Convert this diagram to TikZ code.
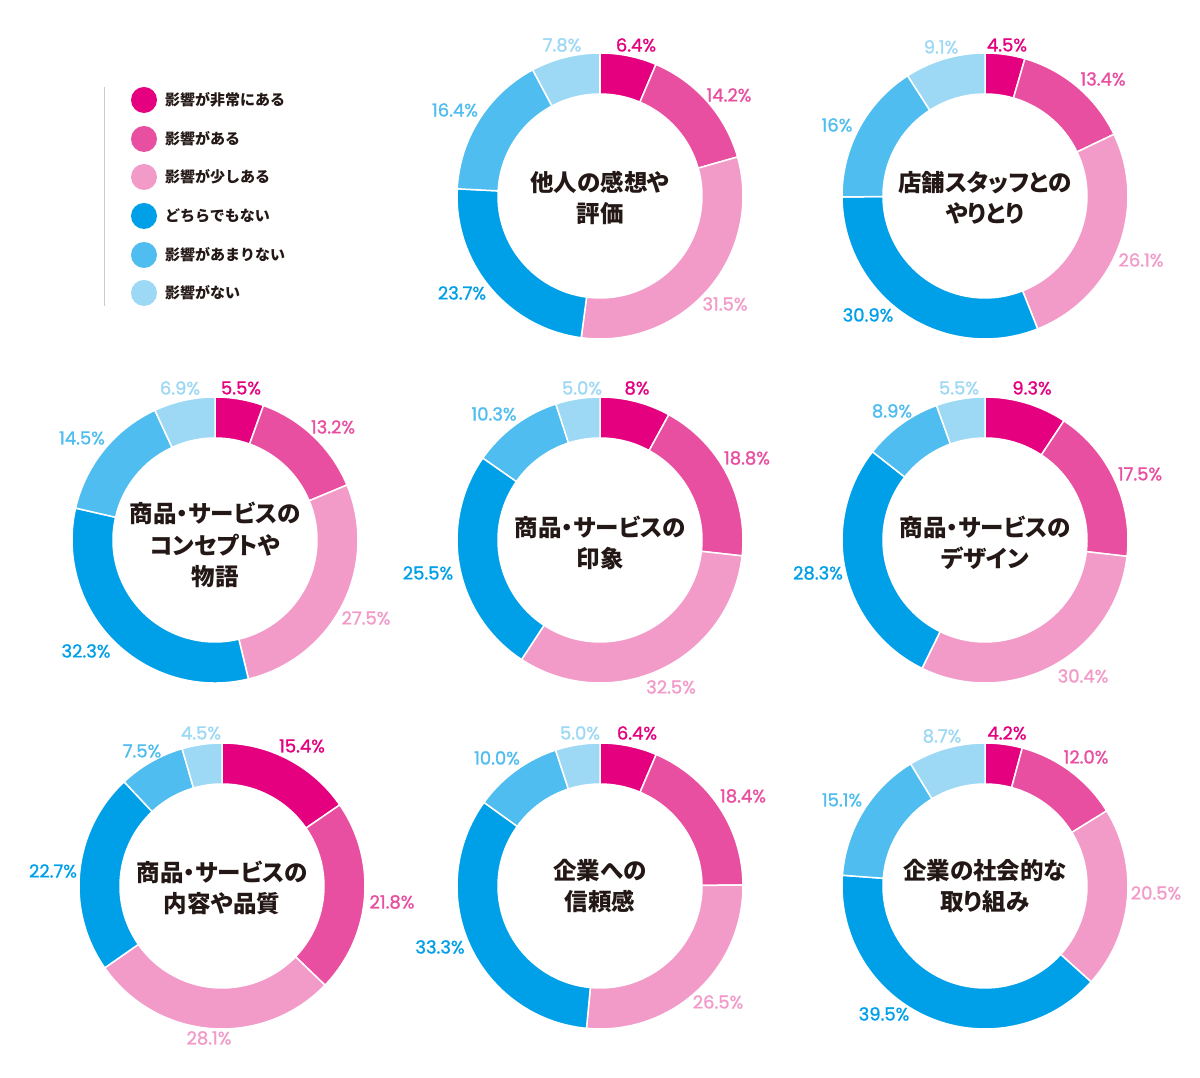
\documentclass[tikz,border=0pt]{standalone}
\usepackage{fontspec}
\newfontfamily\jpfont{Noto Sans CJK JP}
\newfontfamily\jpprop{Noto Sans CJK JP}[RawFeature=+palt]
\newfontfamily\numfont{Poppins}[FakeBold=1.2]
\usetikzlibrary{calc}
\definecolor{cA}{HTML}{E4007F}
\definecolor{cB}{HTML}{E94FA0}
\definecolor{cC}{HTML}{F29BC9}
\definecolor{cD}{HTML}{00A0E9}
\definecolor{cE}{HTML}{4FBDEF}
\definecolor{cF}{HTML}{9DD8F5}
\definecolor{ink}{HTML}{231815}
\newcommand\ringchart[3]{%
  \xdef\ringacc{0}%
  \foreach \val/\col in {#3}{%
    \pgfmathsetmacro\sang{90-(\ringacc/#2)*360}%
    \pgfmathsetmacro\eang{90-((\ringacc+\val)/#2)*360}%
    \fill[\col, draw=white, line width=1.5] ($(#1)+(\sang:143)$) arc[start angle=\sang, end angle=\eang, radius=143] -- ($(#1)+(\eang:102)$) arc[start angle=\eang, end angle=\sang, radius=102] -- cycle;
    \pgfmathsetmacro\nacc{\ringacc+\val}%
    \global\let\ringacc\nacc
  }}
\tikzset{
  pct/.style={font=\numfont\fontsize{18}{18}\selectfont, inner sep=0pt},
  title/.style={font=\jpprop\bfseries\fontsize{23.5}{31.5}\selectfont, text=ink, align=center, inner sep=0pt},
  dot/.style={circle, minimum size=26, inner sep=0pt},
  legtext/.style={font=\jpfont\bfseries\fontsize{15}{16}\selectfont, text=ink, anchor=west, inner sep=0pt},
  legline/.style={draw=black!20, line width=1}
}
\begin{document}
\begin{tikzpicture}[x=1pt,y=1pt]
\useasboundingbox[fill=white] (0,0) rectangle (1200,1078);
% legend
\coordinate (lgtop) at (104,{1078-87});
\coordinate (lgbot) at (104,{1078-306});
\draw[legline] (lgtop) -- (lgbot);
\node[dot, fill=cA] (d1) at (144,{1078-100}) {};
\node[dot, fill=cB] (d2) at (144,{1078-139}) {};
\node[dot, fill=cC] (d3) at (144,{1078-177}) {};
\node[dot, fill=cD] (d4) at (144,{1078-216}) {};
\node[dot, fill=cE] (d5) at (144,{1078-255}) {};
\node[dot, fill=cF] (d6) at (144,{1078-293}) {};
\node[legtext] (t1) at (165,{1078-100}) {影響が非常にある};
\node[legtext] (t2) at (165,{1078-139}) {影響がある};
\node[legtext] (t3) at (165,{1078-177}) {影響が少しある};
\node[legtext] (t4) at (165,{1078-216}) {どちらでもない};
\node[legtext] (t5) at (165,{1078-255}) {影響があまりない};
\node[legtext] (t6) at (165,{1078-293}) {影響がない};
% centers
\coordinate (k1) at (600,{1078-196});
\coordinate (k2) at (985,{1078-196});
\coordinate (k4) at (215,{1078-540});
\coordinate (k5) at (600,{1078-540});
\coordinate (k6) at (985,{1078-540});
\coordinate (k7) at (222,{1078-886});
\coordinate (k8) at (600,{1078-886});
\coordinate (k9) at (985,{1078-886});
\ringchart{k1}{100}{6.4/cA,14.2/cB,31.5/cC,23.7/cD,16.4/cE,7.8/cF}
\ringchart{k2}{100}{4.5/cA,13.4/cB,26.1/cC,30.9/cD,16/cE,9.1/cF}
\ringchart{k4}{99.9}{5.5/cA,13.2/cB,27.5/cC,32.3/cD,14.5/cE,6.9/cF}
\ringchart{k5}{100.1}{8/cA,18.8/cB,32.5/cC,25.5/cD,10.3/cE,5.0/cF}
\ringchart{k6}{99.9}{9.3/cA,17.5/cB,30.4/cC,28.3/cD,8.9/cE,5.5/cF}
\ringchart{k7}{100}{15.4/cA,21.8/cB,28.1/cC,22.7/cD,7.5/cE,4.5/cF}
\ringchart{k8}{99.6}{6.4/cA,18.4/cB,26.5/cC,33.3/cD,10.0/cE,5.0/cF}
\ringchart{k9}{100}{4.2/cA,12.0/cB,20.5/cC,39.5/cD,15.1/cE,8.7/cF}
% titles
\node[title] (h1) at ($(k1)+(0,-2)$) {他人の感想や\\評価};
\node[title] (h2) at ($(k2)+(0,-2)$) {店舗スタッフとの\\やりとり};
\node[title] (h4) at ($(k4)+(0,-5)$) {商品・サービスの\\コンセプトや\\物語};
\node[title] (h5) at ($(k5)+(0,-3)$) {商品・サービスの\\印象};
\node[title] (h6) at ($(k6)+(0,-3)$) {商品・サービスの\\デザイン};
\node[title] (h7) at ($(k7)+(0,-2)$) {商品・サービスの\\内容や品質};
\node[title] (h8) at ($(k8)+(0,0)$) {企業への\\信頼感};
\node[title] (h9) at ($(k9)+(0,0)$) {企業の社会的な\\取り組み};
% labels chart 1
\node[pct, text=cA] (l1a) at (636,{1078-45}) {6.4\%};
\node[pct, text=cB] (l1b) at (729,{1078-95}) {14.2\%};
\node[pct, text=cC] (l1c) at (725,{1078-304}) {31.5\%};
\node[pct, text=cD] (l1d) at (462,{1078-293}) {23.7\%};
\node[pct, text=cE] (l1e) at (455,{1078-110}) {16.4\%};
\node[pct, text=cF] (l1f) at (562,{1078-45}) {7.8\%};
% chart 2
\node[pct, text=cA] (l2a) at (1007,{1078-45}) {4.5\%};
\node[pct, text=cB] (l2b) at (1103,{1078-79}) {13.4\%};
\node[pct, text=cC] (l2c) at (1141,{1078-260}) {26.1\%};
\node[pct, text=cD] (l2d) at (868,{1078-315}) {30.9\%};
\node[pct, text=cE] (l2e) at (837,{1078-125}) {16\%};
\node[pct, text=cF] (l2f) at (941,{1078-47}) {9.1\%};
% chart 4
\node[pct, text=cA] (l4a) at (241,{1078-388}) {5.5\%};
\node[pct, text=cB] (l4b) at (333,{1078-427}) {13.2\%};
\node[pct, text=cC] (l4c) at (366,{1078-618}) {27.5\%};
\node[pct, text=cD] (l4d) at (86,{1078-651}) {32.3\%};
\node[pct, text=cE] (l4e) at (82,{1078-438}) {14.5\%};
\node[pct, text=cF] (l4f) at (180,{1078-388}) {6.9\%};
% chart 5
\node[pct, text=cA] (l5a) at (637,{1078-388}) {8\%};
\node[pct, text=cB] (l5b) at (747,{1078-458}) {18.8\%};
\node[pct, text=cC] (l5c) at (671,{1078-687}) {32.5\%};
\node[pct, text=cD] (l5d) at (428,{1078-573}) {25.5\%};
\node[pct, text=cE] (l5e) at (494,{1078-414}) {10.3\%};
\node[pct, text=cF] (l5f) at (582,{1078-388}) {5.0\%};
% chart 6
\node[pct, text=cA] (l6a) at (1032,{1078-388}) {9.3\%};
\node[pct, text=cB] (l6b) at (1140,{1078-474}) {17.5\%};
\node[pct, text=cC] (l6c) at (1083,{1078-676}) {30.4\%};
\node[pct, text=cD] (l6d) at (818,{1078-573}) {28.3\%};
\node[pct, text=cE] (l6e) at (892,{1078-411}) {8.9\%};
\node[pct, text=cF] (l6f) at (959,{1078-388}) {5.5\%};
% chart 7
\node[pct, text=cA] (l7a) at (302,{1078-746}) {15.4\%};
\node[pct, text=cB] (l7b) at (392,{1078-902}) {21.8\%};
\node[pct, text=cC] (l7c) at (209,{1078-1038}) {28.1\%};
\node[pct, text=cD] (l7d) at (53,{1078-871}) {22.7\%};
\node[pct, text=cE] (l7e) at (142,{1078-751}) {7.5\%};
\node[pct, text=cF] (l7f) at (201,{1078-733}) {4.5\%};
% chart 8
\node[pct, text=cA] (l8a) at (637,{1078-733}) {6.4\%};
\node[pct, text=cB] (l8b) at (743,{1078-796}) {18.4\%};
\node[pct, text=cC] (l8c) at (718,{1078-1002}) {26.5\%};
\node[pct, text=cD] (l8d) at (440,{1078-947}) {33.3\%};
\node[pct, text=cE] (l8e) at (497,{1078-758}) {10.0\%};
\node[pct, text=cF] (l8f) at (580,{1078-733}) {5.0\%};
% chart 9
\node[pct, text=cA] (l9a) at (1007,{1078-733}) {4.2\%};
\node[pct, text=cB] (l9b) at (1086,{1078-757}) {12.0\%};
\node[pct, text=cC] (l9c) at (1156,{1078-893}) {20.5\%};
\node[pct, text=cD] (l9d) at (884,{1078-1014}) {39.5\%};
\node[pct, text=cE] (l9e) at (842,{1078-800}) {15.1\%};
\node[pct, text=cF] (l9f) at (942,{1078-736}) {8.7\%};
\end{tikzpicture}
\end{document}
